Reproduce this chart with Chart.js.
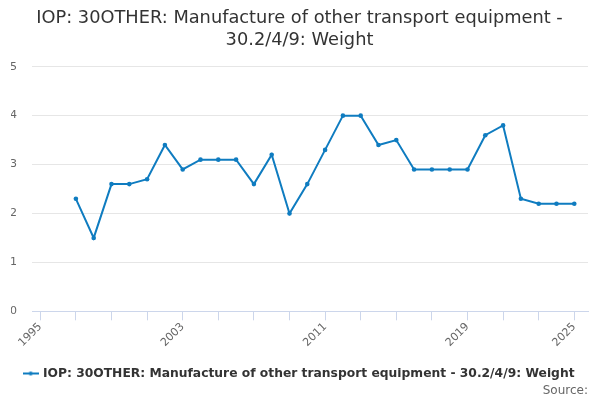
<!DOCTYPE html>
<html>
<head>
<meta charset="utf-8">
<script src="https://cdn.jsdelivr.net/npm/chart.js@4/dist/chart.umd.min.js"></script>
<style>
  html, body { margin: 0; padding: 0; background: #fff; }
  #wrap { width: 600px; height: 400px; }
</style>
</head>
<body>
<div id="wrap"><canvas id="chart"></canvas></div>
<script>
const years = [1997, 1998, 1999, 2000, 2001, 2002, 2003, 2004, 2005, 2006, 2007, 2008, 2009, 2010,
  2011, 2012, 2013, 2014, 2015, 2016, 2017, 2018, 2019, 2020, 2021, 2022, 2023, 2024, 2025];
const weights = [2.3, 1.5, 2.6, 2.6, 2.7, 3.4, 2.9, 3.1, 3.1, 3.1, 2.6, 3.2, 2.0, 2.6,
  3.3, 4.0, 4.0, 3.4, 3.5, 2.9, 2.9, 2.9, 2.9, 3.6, 3.8, 2.3, 2.2, 2.2, 2.2];
const tickYears = [1995, 1997, 1999, 2001, 2003, 2005, 2007, 2009, 2011, 2013, 2015, 2017, 2019, 2021, 2023, 2025];
const labelledYears = [1995, 2003, 2011, 2019, 2025];
const seriesName = "IOP: 30OTHER: Manufacture of other transport equipment - 30.2/4/9: Weight";
const lineColor = "#0f7cc0";

Chart.defaults.font.family = "'DejaVu Sans', sans-serif";

// legend marker: short line with a dot in the middle
const marker = document.createElement("canvas");
marker.width = 16;
marker.height = 6;
const mctx = marker.getContext("2d");
mctx.strokeStyle = lineColor;
mctx.lineWidth = 2;
mctx.beginPath();
mctx.moveTo(0, 3);
mctx.lineTo(16, 3);
mctx.stroke();
mctx.fillStyle = lineColor;
mctx.beginPath();
mctx.arc(8, 3, 2, 0, Math.PI * 2);
mctx.fill();

new Chart(document.getElementById("chart").getContext("2d"), {
  type: "line",
  data: {
    datasets: [
      {
        label: seriesName,
        data: years.map((y, i) => ({ x: y, y: weights[i] })),
        borderColor: lineColor,
        backgroundColor: lineColor,
        borderWidth: 2,
        pointRadius: 2.3,
        pointBorderWidth: 0,
        pointHoverRadius: 3,
        tension: 0,
      },
    ],
  },
  options: {
    responsive: true,
    maintainAspectRatio: false,
    animation: false,
    layout: { padding: { left: 11, right: 12, top: 0, bottom: 0 } },
    scales: {
      x: {
        type: "linear",
        min: 1994.534,
        max: 2025.77,
        afterBuildTicks: (axis) => {
          axis.ticks = tickYears.map((v) => ({ value: v }));
        },
        afterFit: (axis) => {
          axis.paddingLeft = 0;
          axis.paddingRight = 0;
          axis.height = 53;
        },
        ticks: {
          autoSkip: false,
          maxRotation: 45,
          minRotation: 45,
          color: "#666",
          font: { size: 11 },
          padding: 0,
          callback: (v) => (labelledYears.includes(v) ? String(v) : ""),
        },
        grid: { drawOnChartArea: false, color: "#ccd6eb", tickLength: 9 },
        border: { color: "#ccd6eb" },
      },
      y: {
        min: 0,
        max: 5,
        afterFit: (axis) => {
          axis.width = 21;
        },
        ticks: { stepSize: 1, color: "#666", font: { size: 11 }, padding: 15 },
        grid: { color: "#e6e6e6", drawTicks: false },
        border: { display: false },
      },
    },
    plugins: {
      title: {
        display: true,
        text: ["IOP: 30OTHER: Manufacture of other transport equipment -", "30.2/4/9: Weight"],
        color: "#333",
        font: { size: 17.8, weight: "normal" },
        padding: { top: 8, bottom: 16 },
      },
      subtitle: {
        display: true,
        position: "bottom",
        align: "end",
        text: "Source:",
        color: "#666",
        font: { size: 12 },
        padding: { top: -6, bottom: 2 },
      },
      legend: {
        position: "bottom",
        labels: {
          color: "#333",
          font: { size: 12.3, weight: "bold" },
          usePointStyle: true,
          pointStyle: marker,
          padding: 3,
        },
      },
      tooltip: { enabled: false },
    },
  },
});
</script>
</body>
</html>
